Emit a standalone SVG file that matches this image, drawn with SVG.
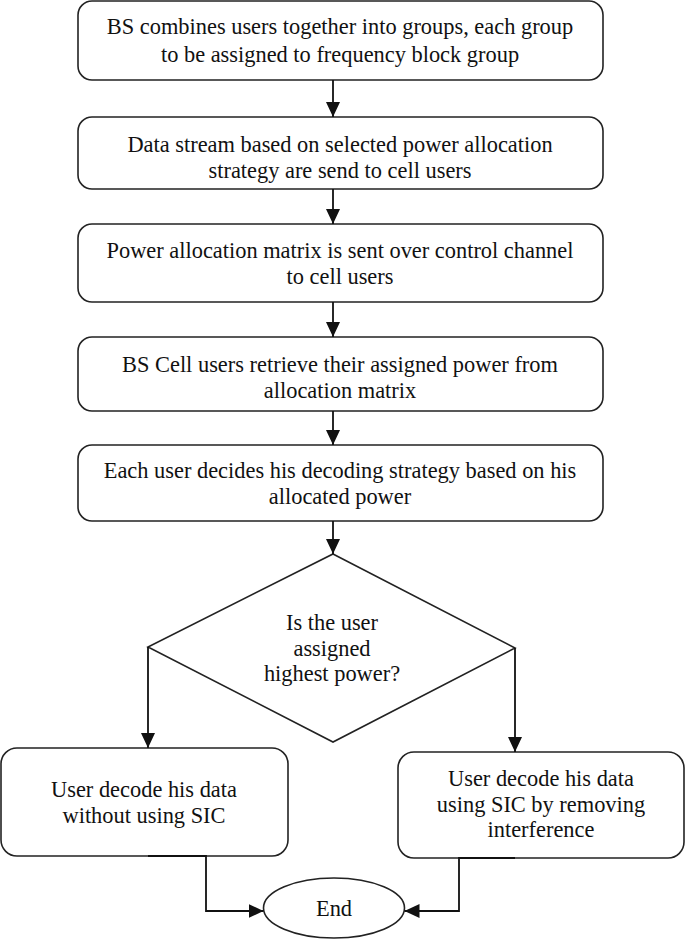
<svg xmlns="http://www.w3.org/2000/svg" width="685" height="940" viewBox="0 0 685 940">
<style>
.b{fill:#fff;stroke:#222;stroke-width:1.6}
.t{font-family:"Liberation Serif","Times New Roman",serif;font-size:22.4px;fill:#111;text-anchor:middle}
.c{fill:none;stroke:#111;stroke-width:1.8}
</style>
<defs>
<marker id="ah" viewBox="0 0 15 14" refX="15" refY="7" markerWidth="15" markerHeight="14" markerUnits="userSpaceOnUse" orient="auto">
<path d="M0,0 L15,7 L0,14 z" fill="#111"/>
</marker>
</defs>
<rect width="685" height="940" fill="#fff"/>
<g id="n1"><rect class="b" x="78" y="1" width="525" height="79" rx="14"/>
<text class="t" x="340" y="34">BS combines users together into groups, each group</text>
<text class="t" x="340" y="62">to be assigned to frequency block group</text></g>
<g id="n2"><rect class="b" x="78" y="117" width="525" height="72" rx="14"/>
<text class="t" x="340" y="152">Data stream based on selected power allocation</text>
<text class="t" x="340" y="178">strategy are send to cell users</text></g>
<g id="n3"><rect class="b" x="78" y="224" width="525" height="78" rx="14"/>
<text class="t" x="340" y="258">Power allocation matrix is sent over control channel</text>
<text class="t" x="340" y="284">to cell users</text></g>
<g id="n4"><rect class="b" x="78" y="337" width="525" height="74" rx="14"/>
<text class="t" x="340" y="372">BS Cell users retrieve their assigned power from</text>
<text class="t" x="340" y="398">allocation matrix</text></g>
<g id="n5"><rect class="b" x="78" y="445" width="525" height="76" rx="14"/>
<text class="t" x="340" y="478">Each user decides his decoding strategy based on his</text>
<text class="t" x="340" y="504">allocated power</text></g>
<g id="d1"><path class="b" d="M333,554 L515,648 L333,742 L148,647 Z"/>
<text class="t" x="332" y="630">Is the user</text>
<text class="t" x="332" y="656">assigned</text>
<text class="t" x="332" y="681">highest power?</text></g>
<g id="n6"><rect class="b" x="1" y="748" width="287" height="108" rx="16"/>
<text class="t" x="144" y="797">User decode his data</text>
<text class="t" x="144" y="823">without using SIC</text></g>
<g id="n7"><rect class="b" x="398" y="752" width="286" height="106" rx="16"/>
<text class="t" x="541" y="786">User decode his data</text>
<text class="t" x="541" y="812">using SIC by removing</text>
<text class="t" x="541" y="837">interference</text></g>
<g id="end"><ellipse class="b" cx="334" cy="908" rx="70.5" ry="30"/>
<text class="t" x="334" y="916">End</text></g>
<g id="connectors">
<path class="c" d="M333,80 V117" marker-end="url(#ah)"/>
<path class="c" d="M333,189 V224" marker-end="url(#ah)"/>
<path class="c" d="M333,302 V337" marker-end="url(#ah)"/>
<path class="c" d="M333,411 V445" marker-end="url(#ah)"/>
<path class="c" d="M333,521 V554" marker-end="url(#ah)"/>
<path class="c" d="M148,647 V748" marker-end="url(#ah)"/>
<path class="c" d="M515,648 V752" marker-end="url(#ah)"/>
<path class="c" d="M148,856 H206 V911 H263.5" marker-end="url(#ah)"/>
<path class="c" d="M515,858 H459 V911 H404.5" marker-end="url(#ah)"/>
</g>
</svg>
